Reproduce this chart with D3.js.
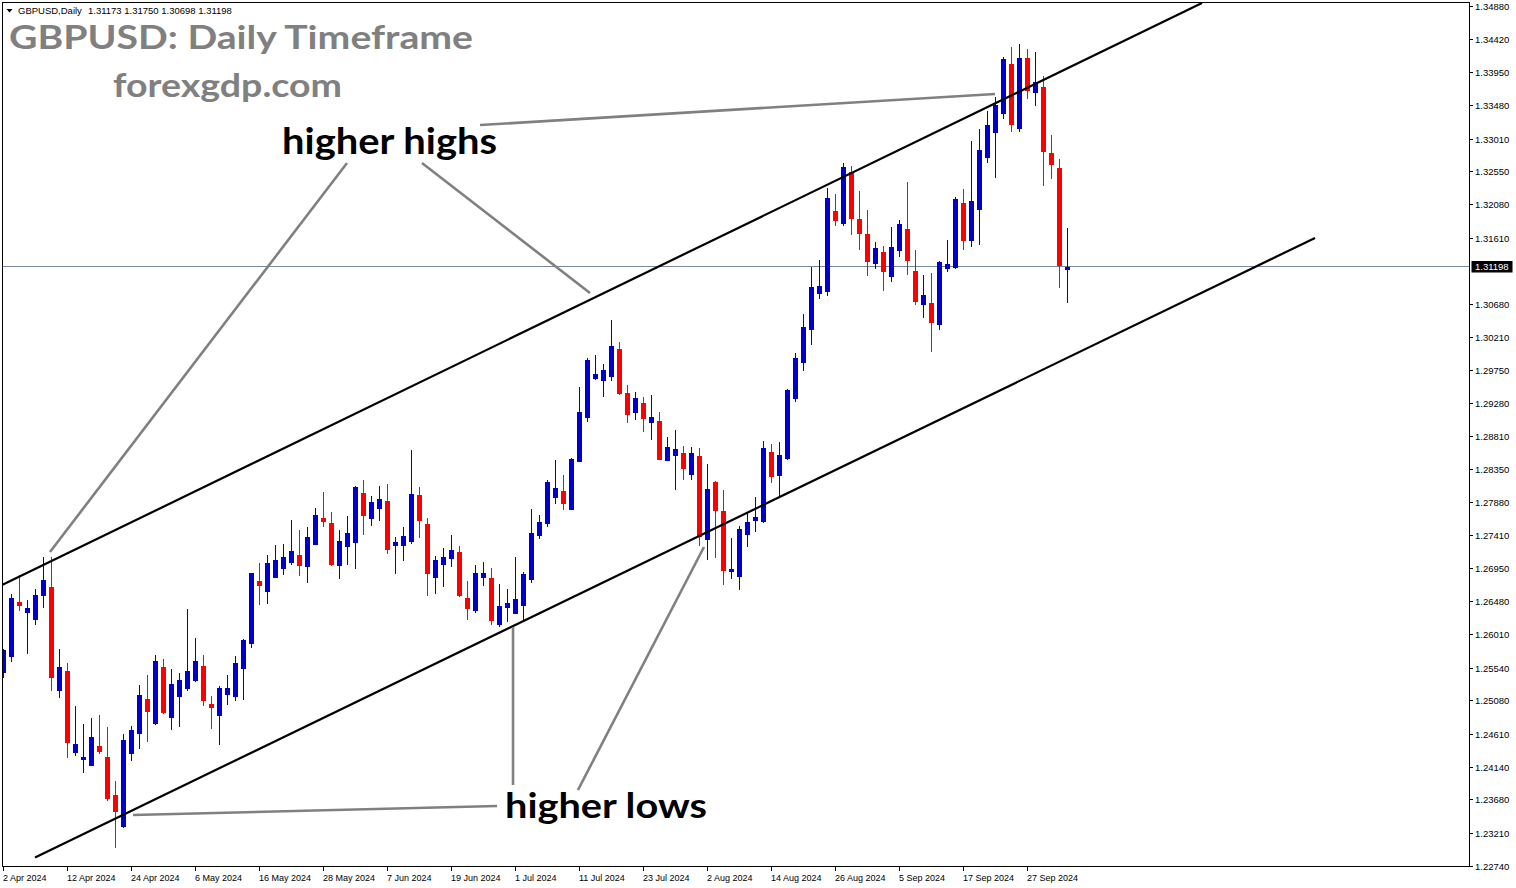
<!DOCTYPE html>
<html><head><meta charset="utf-8">
<script src="https://cdn.jsdelivr.net/npm/d3@7"></script>
<style>html,body{margin:0;padding:0;background:#fff;overflow:hidden}</style>
</head><body><svg id="chart" width="1516" height="888"></svg>
<script>
// ---- data (GBPUSD daily, 2 Apr 2024 .. 4 Oct 2024) ----
const open = [1.2548,1.2571,1.2647,1.2633,1.2623,1.2656,1.2668,1.2522,1.2549,1.2435,
1.2425,1.2417,1.2443,1.2428,1.2374,1.2330,1.2433,1.2462,1.2510,1.2476,
1.2555,1.2485,1.2514,1.2525,1.2537,1.2556,1.2503,1.2487,1.2517,1.2514,
1.2554,1.2589,1.2676,1.2662,1.2682,1.2695,1.2703,1.2713,1.2698,1.2729,
1.2765,1.2758,1.2699,1.2726,1.2731,1.2801,1.2765,1.2779,1.2789,1.2727,
1.2727,1.2733,1.2798,1.2757,1.2682,1.2700,1.2709,1.2717,1.2652,1.2635,
1.2682,1.2681,1.2616,1.2640,1.2631,1.2643,1.2679,1.2741,1.2758,1.2795,
1.2803,1.2778,1.2846,1.2908,1.2963,1.2960,1.2966,1.3004,1.2942,1.2915,
1.2928,1.2901,1.2902,1.2847,1.2854,1.2857,1.2827,1.2853,1.2736,1.2816,
1.2775,1.2691,1.2683,1.2743,1.2763,1.2761,1.2859,1.2826,1.2850,1.2935,
1.2986,1.3032,1.3083,1.3086,1.3199,1.3182,1.3254,1.3188,1.3166,1.3125,
1.3141,1.3107,1.3144,1.3173,1.3114,1.3067,1.3069,1.3039,1.3118,1.3120,
1.3210,1.3158,1.3202,1.3275,1.3310,1.3337,1.3406,1.3316,1.3415,1.3367,
1.3374,1.3281,1.3260,1.31173];
const high = [1.2581,1.2658,1.2685,1.2650,1.2665,1.2710,1.2710,1.2580,1.2560,1.2500,
1.2474,1.2483,1.2487,1.2470,1.2394,1.2460,1.2472,1.2529,1.2543,1.2572,
1.2566,1.2552,1.2546,1.2637,1.2596,1.2572,1.2514,1.2528,1.2544,1.2570,
1.2594,1.2688,1.2702,1.2713,1.2727,1.2729,1.2763,1.2748,1.2753,1.2779,
1.2802,1.2774,1.2748,1.2768,1.2810,1.2819,1.2796,1.2810,1.2813,1.2739,
1.2753,1.2861,1.2809,1.2765,1.2712,1.2723,1.2741,1.2726,1.2676,1.2699,
1.2703,1.2695,1.2672,1.2665,1.2710,1.2689,1.2778,1.2770,1.2819,1.2847,
1.2826,1.2850,1.2950,1.2991,1.2995,1.2983,1.3045,1.3014,1.2953,1.2943,
1.2936,1.2939,1.2915,1.2880,1.2890,1.2867,1.2866,1.2864,1.2842,1.2818,
1.2805,1.2737,1.2754,1.2772,1.2795,1.2874,1.2870,1.2873,1.2947,1.2998,
1.3053,1.3120,1.3130,1.3231,1.3223,1.3267,1.3262,1.3227,1.3200,1.3155,
1.3149,1.3176,1.3186,1.3240,1.3144,1.3108,1.3111,1.3128,1.3158,1.3219,
1.3230,1.3298,1.3315,1.3340,1.3360,1.3416,1.3430,1.3435,1.3428,1.3423,
1.3389,1.3306,1.3272,1.31750];
const low = [1.2541,1.2564,1.2635,1.2575,1.2615,1.2640,1.2522,1.2512,1.2428,1.2431,
1.2407,1.2417,1.2434,1.2367,1.2301,1.2329,1.2424,1.2441,1.2450,1.2475,
1.2490,1.2467,1.2472,1.2522,1.2535,1.2501,1.2469,1.2446,1.2503,1.2508,
1.2510,1.2583,1.2644,1.2645,1.2682,1.2686,1.2700,1.2685,1.2675,1.2729,
1.2754,1.2699,1.2681,1.2700,1.2695,1.2743,1.2755,1.2763,1.2716,1.2688,
1.2706,1.2730,1.2739,1.2657,1.2659,1.2669,1.2698,1.2655,1.2623,1.2633,
1.2671,1.2616,1.2613,1.2620,1.2631,1.2621,1.2675,1.2737,1.2754,1.2787,
1.2778,1.2778,1.2846,1.2902,1.2962,1.2938,1.2960,1.2940,1.2901,1.2905,
1.2888,1.2877,1.2849,1.2847,1.2806,1.2820,1.2820,1.2727,1.2707,1.2710,
1.2672,1.2681,1.2665,1.2726,1.2747,1.2760,1.2816,1.2798,1.2849,1.2931,
1.2974,1.3011,1.3076,1.3080,1.3179,1.3179,1.3166,1.3145,1.3108,1.3118,
1.3087,1.3100,1.3135,1.3110,1.3067,1.3049,1.3001,1.3032,1.3114,1.3118,
1.3145,1.3149,1.3152,1.3268,1.3247,1.3330,1.3312,1.3312,1.3358,1.3348,
1.3236,1.3245,1.3091,1.30698];
const close = [1.2579,1.2653,1.2643,1.2638,1.2657,1.2678,1.2541,1.2555,1.2449,1.2446,
1.2428,1.2456,1.2437,1.2370,1.2351,1.2452,1.2466,1.2515,1.2493,1.2563,
1.2491,1.2531,1.2537,1.2549,1.2563,1.2508,1.2498,1.2525,1.2525,1.2561,
1.2593,1.2688,1.2671,1.2702,1.2706,1.2710,1.2719,1.2699,1.2739,1.2770,
1.2761,1.2700,1.2733,1.2744,1.2809,1.2770,1.2788,1.2792,1.2722,1.2731,
1.2740,1.2799,1.2763,1.2688,1.2706,1.2710,1.2720,1.2657,1.2638,1.2688,
1.2688,1.2621,1.2641,1.2645,1.2651,1.2686,1.2744,1.2760,1.2816,1.2808,
1.2787,1.2849,1.2915,1.2988,1.2969,1.2974,1.3008,1.2942,1.2912,1.2935,
1.2907,1.2908,1.2849,1.2866,1.2863,1.2836,1.2857,1.2740,1.2806,1.2777,
1.2692,1.2693,1.2750,1.2760,1.2767,1.2864,1.2825,1.2854,1.2946,1.2991,
1.3035,1.3091,1.3093,1.3217,1.3186,1.3261,1.3189,1.3168,1.3128,1.3147,
1.3114,1.3148,1.3180,1.3130,1.3072,1.3080,1.3042,1.3127,1.3124,1.3216,
1.3158,1.3213,1.3285,1.3320,1.3348,1.3413,1.3322,1.3415,1.3370,1.3381,
1.3284,1.3265,1.3123,1.31198];

const priceTicks = [1.34880,1.34420,1.33950,1.33480,1.33010,1.32550,1.32080,1.31610,
1.30680,1.30210,1.29750,1.29280,1.28810,1.28350,1.27880,1.27410,1.26950,1.26480,
1.26010,1.25540,1.25080,1.24610,1.24140,1.23680,1.23210,1.22740];
const dateTicks = ["2 Apr 2024","12 Apr 2024","24 Apr 2024","6 May 2024","16 May 2024",
"28 May 2024","7 Jun 2024","19 Jun 2024","1 Jul 2024","11 Jul 2024","23 Jul 2024",
"2 Aug 2024","14 Aug 2024","26 Aug 2024","5 Sep 2024","17 Sep 2024","27 Sep 2024"];
const dateTickIndex = [0,8,16,24,32,40,48,56,64,72,80,88,96,104,112,120,128];

const symbolLabel = "GBPUSD,Daily";
const titleText = "GBPUSD: Daily Timeframe";
const siteText = "forexgdp.com";

// trendlines as [candle index, price]
const channelUpper = [[-0.19,1.26707],[149.81,1.34925]];
const channelLower = [[3.94,1.22861],[163.94,1.31608]];
const pointerLines = [
  [[5.81,1.27173],[42.94,1.32666]],
  [[52.31,1.32666],[73.31,1.30830]],
  [[59.56,1.33202],[123.94,1.33640]],
  [[16.19,1.23460],[61.69,1.23587]],
  [[63.69,1.26114],[63.69,1.23884]],
  [[71.81,1.23813],[87.56,1.27244]]
];

// ---- drawing ----
const svg = d3.select("#chart");
const P = {l:2, t:2, r:1469, b:866};
const x = d3.scaleLinear().domain([0,133]).range([3.5, 3.5 + 8*133]);
const y = d3.scaleLinear().domain([1.2274, 1.34939]).range([866, 2]);
const BLUE = "#0000CD", RED = "#FF0000";

svg.append("rect").attr("width",1516).attr("height",888).attr("fill","#fff");
svg.append("defs").append("clipPath").attr("id","clip")
  .append("rect").attr("x",P.l).attr("y",P.t).attr("width",P.r-P.l).attr("height",P.b-P.t);
const plot = svg.append("g").attr("clip-path","url(#clip)");

// bid line
const lastC = close[close.length-1];
const bidY = Math.round(y(lastC)) - 0.5;
plot.append("line").attr("x1",P.l).attr("x2",P.r).attr("y1",bidY).attr("y2",bidY)
  .attr("stroke","#778899").attr("stroke-width",1);

// candles
const cg = plot.append("g").attr("shape-rendering","crispEdges");
open.forEach((o,i)=>{
  const c = close[i], up = c >= o, col = up ? BLUE : RED;
  const cx = x(i);
  cg.append("line").attr("x1",cx).attr("x2",cx)
    .attr("y1",Math.round(y(high[i]))).attr("y2",Math.round(y(low[i]))+1)
    .attr("stroke",col).attr("stroke-width",1);
  const top = Math.round(y(Math.max(o,c))), bot = Math.round(y(Math.min(o,c)));
  cg.append("rect").attr("x",cx-2.5).attr("y",top).attr("width",5)
    .attr("height",Math.max(1,bot-top+1)).attr("fill",col);
});

// channel lines
const lineGen = d3.line().x(d=>x(d[0])).y(d=>y(d[1]));
[channelUpper, channelLower].forEach(l=>{
  plot.append("path").attr("d",lineGen(l)).attr("stroke","#000").attr("stroke-width",2.2).attr("fill","none");
});
pointerLines.forEach(l=>{
  plot.append("path").attr("d",lineGen(l)).attr("stroke","#808080").attr("stroke-width",2.6).attr("fill","none");
});

// frame
svg.append("rect").attr("x",P.l+0.5).attr("y",P.t+0.5).attr("width",P.r-P.l).attr("height",P.b-P.t)
  .attr("fill","none").attr("stroke","#000").attr("stroke-width",1).attr("shape-rendering","crispEdges");

// price axis
const pa = svg.append("g").attr("font-family","'Liberation Sans', Arial, sans-serif").attr("font-size","9.5px");
priceTicks.forEach(v=>{
  const yy = Math.round(y(v)) + 0.5;
  pa.append("line").attr("x1",P.r+0.5).attr("x2",P.r+4).attr("y1",yy).attr("y2",yy)
    .attr("stroke","#000").attr("shape-rendering","crispEdges");
  pa.append("text").attr("x",1475).attr("y",yy+3.4).attr("fill","#000").text(d3.format(".5f")(v));
});
// current price box
const by = Math.round(y(lastC));
pa.append("rect").attr("x",1471.5).attr("y",by-6).attr("width",41).attr("height",11.5).attr("fill","#000");
pa.append("text").attr("x",1475).attr("y",by+3.4).attr("fill","#fff").text(d3.format(".5f")(lastC));

// date axis
const da = svg.append("g").attr("font-family","'Liberation Sans', Arial, sans-serif").attr("font-size","9px");
dateTicks.forEach((t,k)=>{
  const xx = x(dateTickIndex[k]);
  da.append("line").attr("x1",xx).attr("x2",xx).attr("y1",P.b+1).attr("y2",P.b+5)
    .attr("stroke","#000").attr("shape-rendering","crispEdges");
  da.append("text").attr("x",xx-0.5).attr("y",881).attr("fill","#000").text(t);
});

// header
svg.append("path").attr("d","M6.5,9 L12.5,9 L9.5,12.5 Z").attr("fill","#000");
const hd = svg.append("g").attr("font-family","'Liberation Sans', Arial, sans-serif").attr("font-size","9.5px").attr("fill","#000");
hd.append("text").attr("x",18).attr("y",14).text(symbolLabel);
const li = open.length-1;
hd.append("text").attr("x",88).attr("y",14)
  .text([open[li],high[li],low[li],close[li]].map(d3.format(".5f")).join(" "));

// titles & annotations
const tf = "Lato, 'Open Sans', sans-serif";
svg.append("text").attr("x",9).attr("y",49).attr("font-family",tf).attr("font-weight",700)
  .attr("font-size","33px").attr("fill","#808080").attr("textLength",464).attr("lengthAdjust","spacingAndGlyphs").text(titleText);
svg.append("text").attr("x",113).attr("y",97).attr("font-family",tf).attr("font-weight",700)
  .attr("font-size","33px").attr("fill","#808080").attr("textLength",229).attr("lengthAdjust","spacingAndGlyphs").text(siteText);
svg.append("text").attr("x",282).attr("y",154).attr("font-family",tf).attr("font-weight",700)
  .attr("font-size","37px").attr("fill","#000").attr("textLength",215).attr("lengthAdjust","spacingAndGlyphs").text("higher highs");
svg.append("text").attr("x",505).attr("y",818).attr("font-family",tf).attr("font-weight",700)
  .attr("font-size","35px").attr("fill","#000").attr("textLength",202).attr("lengthAdjust","spacingAndGlyphs").text("higher lows");
</script></body></html>
